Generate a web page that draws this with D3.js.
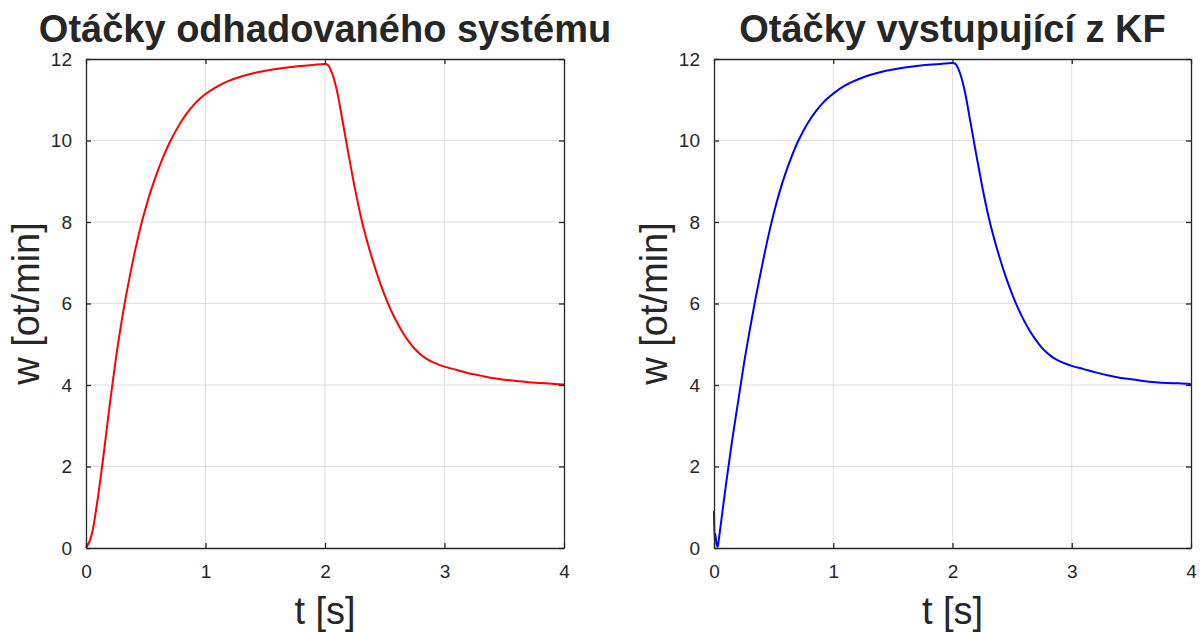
<!DOCTYPE html>
<html>
<head>
<meta charset="utf-8">
<script src="https://cdn.jsdelivr.net/npm/d3@7"></script>
<style>
  html, body { margin: 0; padding: 0; background: #fff; }
  svg { display: block; }
  text { font-family: "Liberation Sans", Arial, Helvetica, sans-serif; fill: #262626; }
</style>
</head>
<body>
<svg id="chart" width="1201" height="632"></svg>
<script>
// Speed of the estimated system (left panel)
const tSystem = [0, 0.05, 0.10, 0.15, 0.20, 0.25, 0.30, 0.35, 0.40, 0.45, 0.50, 0.55, 0.60, 0.65,
  0.70, 0.75, 0.80, 0.85, 0.90, 0.95, 1.0, 1.1, 1.2, 1.3, 1.4, 1.5, 1.6, 1.7, 1.8, 1.9, 2.0,
  2.02, 2.05, 2.1, 2.15, 2.2, 2.25, 2.3, 2.35, 2.4, 2.45, 2.5, 2.55, 2.6, 2.65, 2.7, 2.75, 2.8,
  2.85, 2.9, 2.95, 3.0, 3.1, 3.2, 3.3, 3.4, 3.5, 3.6, 3.7, 3.8, 3.9, 4.0];
const wSystem = [0, 0.35, 1.25, 2.35, 3.55, 4.65, 5.6, 6.42, 7.15, 7.8, 8.35, 8.83, 9.25, 9.62,
  9.95, 10.23, 10.48, 10.69, 10.87, 11.02, 11.14, 11.33, 11.47, 11.57, 11.65, 11.71, 11.76, 11.8,
  11.83, 11.855, 11.875,
  11.86, 11.72, 11.22, 10.43, 9.61, 8.83, 8.13, 7.55, 7.05, 6.6, 6.2, 5.85, 5.55, 5.29, 5.07, 4.89,
  4.75, 4.64, 4.56, 4.5, 4.45, 4.37, 4.29, 4.23, 4.17, 4.13, 4.1, 4.07, 4.05, 4.03, 4.01];

// Speed at the Kalman filter output (right panel)
const tKF = [0, 0.005, 0.01, 0.02, 0.03, 0.04, 0.05, 0.10, 0.15, 0.20, 0.25, 0.30, 0.35, 0.40,
  0.45, 0.50, 0.55, 0.60, 0.65, 0.70, 0.75, 0.80, 0.85, 0.90, 0.95, 1.0, 1.1, 1.2, 1.3, 1.4, 1.5,
  1.6, 1.7, 1.8, 1.9, 2.0,
  2.02, 2.05, 2.1, 2.15, 2.2, 2.25, 2.3, 2.35, 2.4, 2.45, 2.5, 2.55, 2.6, 2.65, 2.7, 2.75, 2.8,
  2.85, 2.9, 2.95, 3.0, 3.1, 3.2, 3.3, 3.4, 3.5, 3.6, 3.7, 3.8, 3.9, 4.0];
const wKF = [0.9, 0.2, 0.35, 0.12, 0.03, 0.2, 0.42, 1.55, 2.6, 3.55, 4.5, 5.35, 6.15, 6.88,
  7.58, 8.2, 8.74, 9.2, 9.6, 9.95, 10.24, 10.49, 10.7, 10.88, 11.03, 11.15, 11.35, 11.49, 11.6,
  11.68, 11.74, 11.79, 11.83, 11.86, 11.88, 11.9,
  11.89, 11.75, 11.25, 10.46, 9.64, 8.86, 8.16, 7.58, 7.08, 6.63, 6.23, 5.88, 5.58, 5.32, 5.1, 4.91,
  4.77, 4.66, 4.58, 4.52, 4.47, 4.39, 4.31, 4.24, 4.18, 4.14, 4.1, 4.07, 4.05, 4.04, 4.02];

const xTicks = [0, 1, 2, 3, 4];
const yTicks = [0, 2, 4, 6, 8, 10, 12];

const titles = ["Otáčky odhadovaného systému", "Otáčky vystupující z KF"];
const xLabel = "t [s]";
const yLabel = "w [ot/min]";

const svg = d3.select("#chart");
svg.append("rect").attr("width", 1201).attr("height", 632).attr("fill", "#fff");

function panel(left, right, tVals, wVals, color, title) {
  const top = 59, bottom = 548;
  const x = d3.scaleLinear().domain([0, 4]).range([left, right]);
  const y = d3.scaleLinear().domain([0, 12]).range([bottom, top]);
  const g = svg.append("g");

  // grid
  g.append("g").selectAll("line").data(xTicks.slice(1, -1)).join("line")
    .attr("x1", d => x(d)).attr("x2", d => x(d)).attr("y1", top).attr("y2", bottom)
    .attr("stroke", "#dedede").attr("stroke-width", 1);
  g.append("g").selectAll("line").data(yTicks.slice(1, -1)).join("line")
    .attr("x1", left).attr("x2", right).attr("y1", d => y(d)).attr("y2", d => y(d))
    .attr("stroke", "#dedede").attr("stroke-width", 1);

  // data line
  const pts = tVals.map((t, i) => [t, wVals[i]]);
  g.append("path").datum(pts)
    .attr("fill", "none").attr("stroke", color).attr("stroke-width", 2)
    .attr("stroke-linejoin", "round")
    .attr("d", d3.line().x(d => x(d[0])).y(d => y(d[1])).curve(d3.curveMonotoneX));

  // axes (ticks inward, mirrored on top/right)
  const ax = (gen, tr) => g.append("g").attr("transform", tr).call(gen)
    .call(s => s.select(".domain").attr("stroke", "#262626").attr("stroke-width", 1.3))
    .call(s => s.selectAll(".tick line").attr("stroke", "#262626").attr("stroke-width", 1.3));

  ax(d3.axisBottom(x).tickValues(xTicks).tickSizeInner(-5).tickSizeOuter(0).tickPadding(17)
      .tickFormat(d3.format("d")), `translate(0,${bottom})`)
    .selectAll("text").attr("font-size", 19).attr("fill", "#262626")
    .attr("font-family", '"Liberation Sans", Arial, sans-serif');
  ax(d3.axisTop(x).tickValues(xTicks).tickSizeInner(-5).tickSizeOuter(0).tickFormat(""),
    `translate(0,${top})`);
  ax(d3.axisLeft(y).tickValues(yTicks).tickSizeInner(-5).tickSizeOuter(0).tickPadding(14)
      .tickFormat(d3.format("d")), `translate(${left},0)`)
    .selectAll("text").attr("font-size", 19).attr("fill", "#262626")
    .attr("font-family", '"Liberation Sans", Arial, sans-serif');
  ax(d3.axisRight(y).tickValues(yTicks).tickSizeInner(-5).tickSizeOuter(0).tickFormat(""),
    `translate(${right},0)`);

  // title and axis labels
  const cx = (left + right) / 2;
  g.append("text").attr("x", cx).attr("y", 42).attr("text-anchor", "middle")
    .attr("font-size", 38).attr("font-weight", "bold").attr("fill", "#000").text(title);
  g.append("text").attr("x", cx).attr("y", 624).attr("text-anchor", "middle")
    .attr("font-size", 38).text(xLabel);
  g.append("text").attr("transform", `translate(${left - 47},${(top + bottom) / 2}) rotate(-90)`)
    .attr("text-anchor", "middle").attr("font-size", 38).text(yLabel);
}

panel(86, 564, tSystem, wSystem, "#ff0000", titles[0]);
panel(714, 1191, tKF, wKF, "#0000ff", titles[1]);
</script>
</body>
</html>
